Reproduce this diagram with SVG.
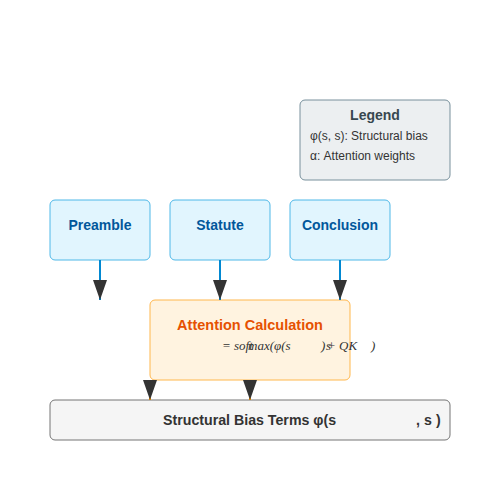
<svg xmlns="http://www.w3.org/2000/svg" width="500" height="500" viewBox="0 0 500 500">
<style>
.part{fill:#e1f5fe;stroke:#4fb8e8;stroke-width:1}
.ptxt{font-family:"Liberation Sans",Arial,sans-serif;font-size:14px;font-weight:bold;fill:#01579b;text-anchor:middle}
.calc{fill:#fff3e0;stroke:#ffb74d;stroke-width:1}
.ctitle{font-family:"Liberation Sans",Arial,sans-serif;font-size:14.5px;font-weight:bold;fill:#e65100;text-anchor:middle}
.f{font-family:"Liberation Serif","Times New Roman",serif;font-size:13px;font-style:italic;fill:#333}
.bias{fill:#f5f5f5;stroke:#757575;stroke-width:1}
.btxt{font-family:"Liberation Sans",Arial,sans-serif;font-size:14.2px;font-weight:bold;fill:#333}
.leg{fill:#eceff1;stroke:#78909c;stroke-width:1}
.lt{font-family:"Liberation Sans",Arial,sans-serif;font-size:14px;font-weight:bold;fill:#37474f;text-anchor:middle}
.li{font-family:"Liberation Sans",Arial,sans-serif;font-size:12px;fill:#333}
.cb{stroke:#0288d1;stroke-width:2;fill:none;marker-end:url(#ah)}
.co{stroke:#ff9800;stroke-width:2;fill:none;marker-end:url(#ah)}
</style>
<defs>
<marker id="ah" markerWidth="10" markerHeight="7" refX="10" refY="3.5" orient="auto">
<path d="M0,0 L10,3.5 L0,7 z" fill="#333"/>
</marker>
</defs>
<rect width="500" height="500" fill="#fff"/>
<g id="legend">
<rect class="leg" x="300" y="100" width="150" height="80" rx="5"/>
<text class="lt" x="375" y="120">Legend</text>
<text class="li" x="310" y="140">φ(s, s): Structural bias</text>
<text class="li" x="310" y="160">α: Attention weights</text>
</g>
<g id="preamble">
<rect class="part" x="50" y="200" width="100" height="60" rx="5"/>
<text class="ptxt" x="100" y="230">Preamble</text>
</g>
<g id="statute">
<rect class="part" x="170" y="200" width="100" height="60" rx="5"/>
<text class="ptxt" x="220" y="230">Statute</text>
</g>
<g id="conclusion">
<rect class="part" x="290" y="200" width="100" height="60" rx="5"/>
<text class="ptxt" x="340" y="230">Conclusion</text>
</g>
<g id="attention">
<rect class="calc" x="150" y="300" width="200" height="80" rx="5"/>
<text class="ctitle" x="250" y="330">Attention Calculation</text>
<text class="f" x="222" y="350">= soft</text>
<text class="f" x="248" y="350">max(φ(s</text>
<text class="f" x="321" y="350">)</text>
<text class="f" x="326" y="350">s</text>
<text class="f" x="327" y="350">+</text>
<text class="f" x="339" y="350">QK</text>
<text class="f" x="371" y="350">)</text>
</g>
<g id="bias">
<rect class="bias" x="50" y="400" width="400" height="40" rx="5"/>
<text class="btxt" x="163" y="425">Structural Bias Terms φ(s</text>
<text class="btxt" x="416" y="425">, s</text>
<text class="btxt" x="436" y="425">)</text>
</g>
<g id="connectors">
<line class="cb" x1="100" y1="260" x2="100" y2="300"/>
<line class="cb" x1="220" y1="260" x2="220" y2="300"/>
<line class="cb" x1="340" y1="260" x2="340" y2="300"/>
<line class="co" x1="150" y1="380" x2="150" y2="400"/>
<line class="co" x1="250" y1="380" x2="250" y2="400"/>
</g>
</svg>
